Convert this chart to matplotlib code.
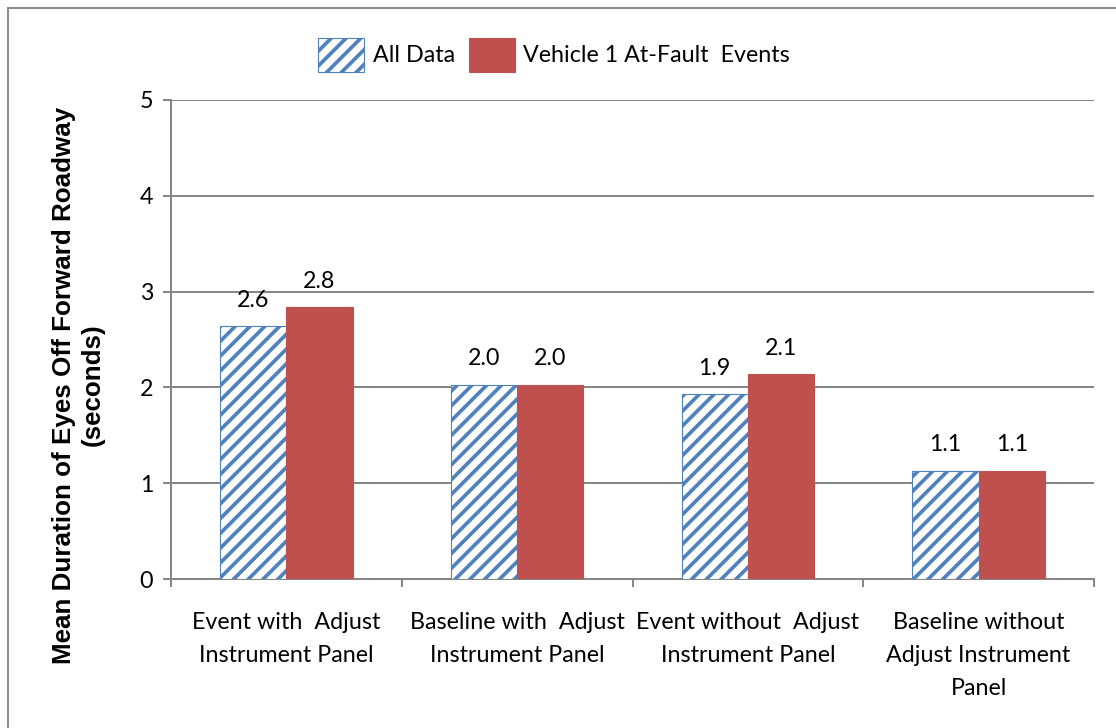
import numpy as np
import matplotlib
matplotlib.use("Agg")
from matplotlib import pyplot as plt
from matplotlib.patches import Rectangle

# data
categories = ["Event with  Adjust\nInstrument Panel",
              "Baseline with  Adjust\nInstrument Panel",
              "Event without  Adjust\nInstrument Panel",
              "Baseline without\nAdjust Instrument\nPanel"]
all_data = [2.64, 2.03, 1.93, 1.13]
at_fault = [2.84, 2.03, 2.14, 1.13]
series_names = ["All Data", "Vehicle 1 At-Fault  Events"]
yticks = [0, 1, 2, 3, 4, 5]

DPI = 133
def px(p):
    # pixel size -> points at this dpi
    return p * 72.0 / DPI

plt.rcParams['font.family'] = ['Lato', 'DejaVu Sans']
plt.rcParams['hatch.linewidth'] = 2.0
plt.rcParams['hatch.color'] = '#4F81BD'

fig = plt.figure(figsize=(1116 / DPI, 728 / DPI), dpi=DPI)
fig.patches.append(Rectangle((8 / 1116, -0.1), 1.2, 1 - 8 / 728 + 0.1,
                             transform=fig.transFigure, fill=False,
                             edgecolor='#8c8c8c', linewidth=px(2)))
ax = fig.add_axes([171 / 1116, 1 - 579 / 728, (1094 - 171) / 1116, (579 - 100) / 728])

x = np.arange(len(categories))
w = 0.287
b1 = ax.bar(x - w / 2, all_data, w, color='white', edgecolor='#4F81BD',
            hatch='///', linewidth=0.6, label=series_names[0], zorder=3)
b2 = ax.bar(x + w / 2, at_fault, w, color='#C0504D', edgecolor='#C0504D',
            linewidth=0.6, label=series_names[1], zorder=3)

fs = px(23.3)
for bars, vals in ((b1, all_data), (b2, at_fault)):
    for r, v in zip(bars, vals):
        ax.text(r.get_x() + r.get_width() / 2, v + 0.27, "%.1f" % v,
                ha='center', va='center', fontsize=fs, color='black')

ax.set_xlim(-0.5, len(categories) - 0.5)
ax.set_ylim(0, 5)
ax.set_yticks(yticks)
ax.yaxis.grid(True, color='#868686', linewidth=px(2))
ax.set_axisbelow(True)
ax.tick_params(axis='y', length=px(8), width=px(2), color='#868686',
               labelsize=fs, pad=px(10))
ax.set_xticks(np.arange(len(categories) + 1) - 0.5)
ax.set_xticklabels([])
ax.set_xticks(x, minor=True)
ax.set_xticklabels(categories, minor=True, fontsize=fs, linespacing=1.7)
ax.tick_params(axis='x', which='major', length=px(8), width=px(2), color='#868686')
ax.tick_params(axis='x', which='minor', length=0, pad=px(33))
for s in ['top', 'right']:
    ax.spines[s].set_visible(False)
for s in ['left', 'bottom']:
    ax.spines[s].set_color('#868686')
    ax.spines[s].set_linewidth(px(2))

fig.text(78 / 1116, 1 - 385 / 728,
         "Mean Duration of Eyes Off Forward Roadway\n(seconds)",
         rotation=90, ha='center', va='center', fontsize=px(26),
         family=['Liberation Sans Narrow', 'Liberation Sans', 'DejaVu Sans'],
         fontweight='bold', linespacing=1.25)

fig.legend(handles=[b1, b2], labels=series_names, loc='center',
           bbox_to_anchor=(554 / 1116, 1 - 55 / 728), ncol=2, frameon=False,
           fontsize=fs, handlelength=2.0, handleheight=1.85, handletextpad=0.35,
           columnspacing=0.6)

fig.savefig("out.png", dpi=DPI)
